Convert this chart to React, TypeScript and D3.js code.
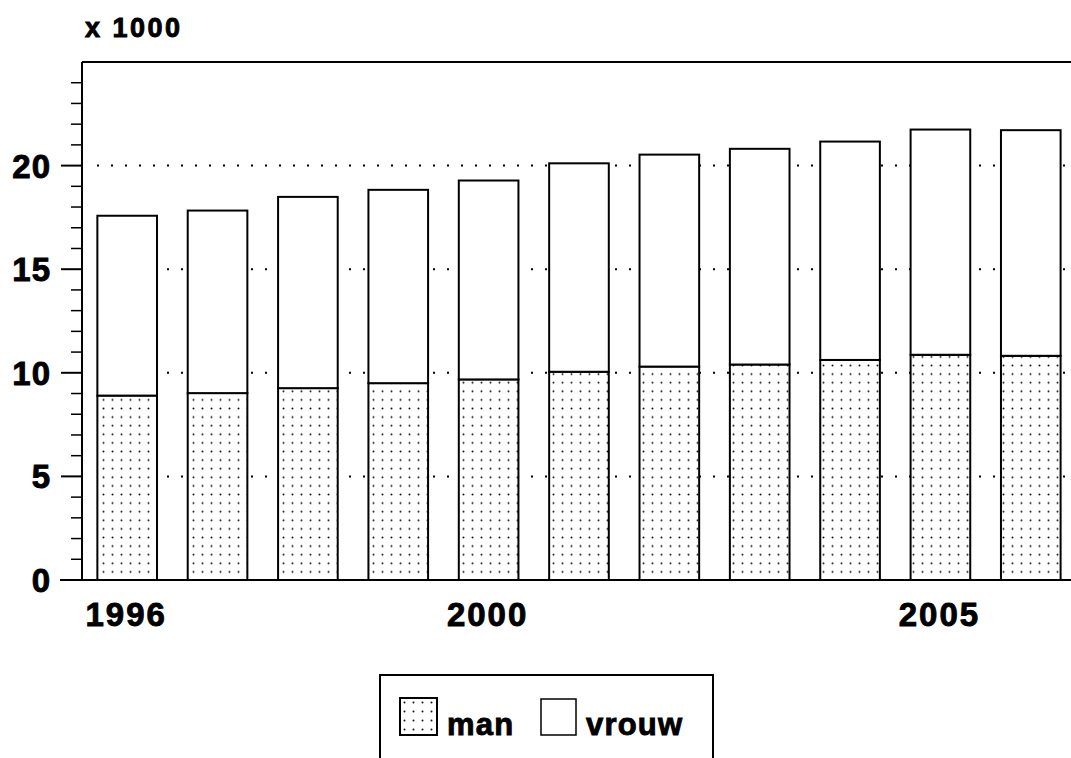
import React from "react";
import * as d3 from "d3";

const years = ["1996", "1997", "1998", "1999", "2000", "2001", "2002", "2003", "2004", "2005", "2006"];
const man = [8.9, 9.02, 9.26, 9.5, 9.68, 10.05, 10.3, 10.4, 10.62, 10.87, 10.82];
const vrouw = [8.68, 8.81, 9.23, 9.33, 9.6, 10.06, 10.23, 10.41, 10.54, 10.87, 10.89];
const xTickLabels = ["1996", "2000", "2005"];
const yMajorTicks = [0, 5, 10, 15, 20];
const gridValues = [5, 10, 15, 20];
const seriesKeys = ["man", "vrouw"];
const legendLabels = ["man", "vrouw"];
const unitLabel = "x 1000";

const W = 1071;
const H = 758;
const left = 82;
const zeroY = 580;
const topY = 62;
const font = "'Liberation Sans', Arial, Helvetica, sans-serif";
const heavy = { stroke: "#000", strokeWidth: 0.9 } as const;

export default function App() {
  const rows = years.map((y, i) => ({ year: y, man: man[i], vrouw: vrouw[i] }));
  const stack = d3.stack<any>().keys(seriesKeys);
  const stacked = stack(rows);

  const pad = 0.34;
  const x = d3
    .scaleBand<string>()
    .domain(years)
    .range([left, left + 11 * 90.36])
    .paddingInner(pad)
    .paddingOuter(pad / 2);
  const y = d3.scaleLinear().domain([0, 25]).range([zeroY, topY]);
  const minorTicks = d3.range(1, 25).filter((v) => v % 5 !== 0);

  return (
    <div style={{ position: "absolute", left: 0, top: 0 }}>
      <svg width={W} height={H} style={{ display: "block", background: "#fff" }}>
        <defs>
          <pattern id="dots" width={9} height={8.6} patternUnits="userSpaceOnUse">
            <rect width={9} height={8.6} fill="#fff" />
            <circle cx={4.5} cy={4.3} r={1} fill="#111" />
          </pattern>
          <pattern id="dotsLegend" width={9} height={9} patternUnits="userSpaceOnUse" x={400} y={698}>
            <rect width={9} height={9} fill="#fff" />
            <circle cx={4.5} cy={4.5} r={1} fill="#111" />
          </pattern>
        </defs>

        {/* unit label */}
        <text x={85} y={37} fontFamily={font} fontWeight="bold" fontSize={27} letterSpacing={2.5} fill="#000" {...heavy}>
          {unitLabel}
        </text>

        {/* grid dotted lines */}
        {gridValues.map((v) => (
          <line
            key={"g" + v}
            x1={97}
            x2={W}
            y1={y(v)}
            y2={y(v)}
            stroke="#000"
            strokeWidth={2}
            strokeDasharray="2 12"
          />
        ))}

        {/* bars */}
        {stacked.map((s, si) => (
          <g key={s.key}>
            {s.map((d, i) => (
              <rect
                key={i}
                x={x(years[i])}
                y={y(d[1])}
                width={x.bandwidth()}
                height={y(d[0]) - y(d[1])}
                fill={si === 0 ? "url(#dots)" : "#fff"}
                stroke="#000"
                strokeWidth={2}
              />
            ))}
          </g>
        ))}

        {/* axes */}
        <line x1={left} x2={W} y1={topY} y2={topY} stroke="#000" strokeWidth={2} />
        <line x1={left} x2={left} y1={topY} y2={zeroY} stroke="#000" strokeWidth={2} />
        <line x1={60} x2={W} y1={zeroY} y2={zeroY} stroke="#000" strokeWidth={2} />

        {yMajorTicks.map((v) => (
          <g key={"t" + v}>
            <line x1={61} x2={left} y1={y(v)} y2={y(v)} stroke="#000" strokeWidth={2} />
            <text
              x={51}
              y={y(v) + 12}
              textAnchor="end"
              fontFamily={font}
              fontWeight="bold"
              fontSize={33}
              letterSpacing={1}
              fill="#000"
              {...heavy}
            >
              {v}
            </text>
          </g>
        ))}
        {minorTicks.map((v) => (
          <line key={"m" + v} x1={71} x2={left} y1={y(v)} y2={y(v)} stroke="#000" strokeWidth={1.5} />
        ))}

        {xTickLabels.map((lbl) => (
          <text
            key={lbl}
            x={(x(lbl) as number) + x.bandwidth() / 2 - 1}
            y={626}
            textAnchor="middle"
            fontFamily={font}
            fontWeight="bold"
            fontSize={33}
            letterSpacing={2}
            fill="#000"
            {...heavy}
          >
            {lbl}
          </text>
        ))}

        {/* legend */}
        <rect x={380} y={675} width={333} height={100} fill="#fff" stroke="#000" strokeWidth={2} />
        <rect x={400} y={698} width={37} height={37} fill="url(#dotsLegend)" stroke="#000" strokeWidth={2} />
        <text x={447} y={735} fontFamily={font} fontWeight="bold" fontSize={31} letterSpacing={1.2} fill="#000" {...heavy}>
          {legendLabels[0]}
        </text>
        <rect x={541} y={699} width={35} height={36} fill="#fff" stroke="#000" strokeWidth={1.5} />
        <text x={586} y={735} fontFamily={font} fontWeight="bold" fontSize={31} letterSpacing={1.2} fill="#000" {...heavy}>
          {legendLabels[1]}
        </text>
      </svg>
    </div>
  );
}
